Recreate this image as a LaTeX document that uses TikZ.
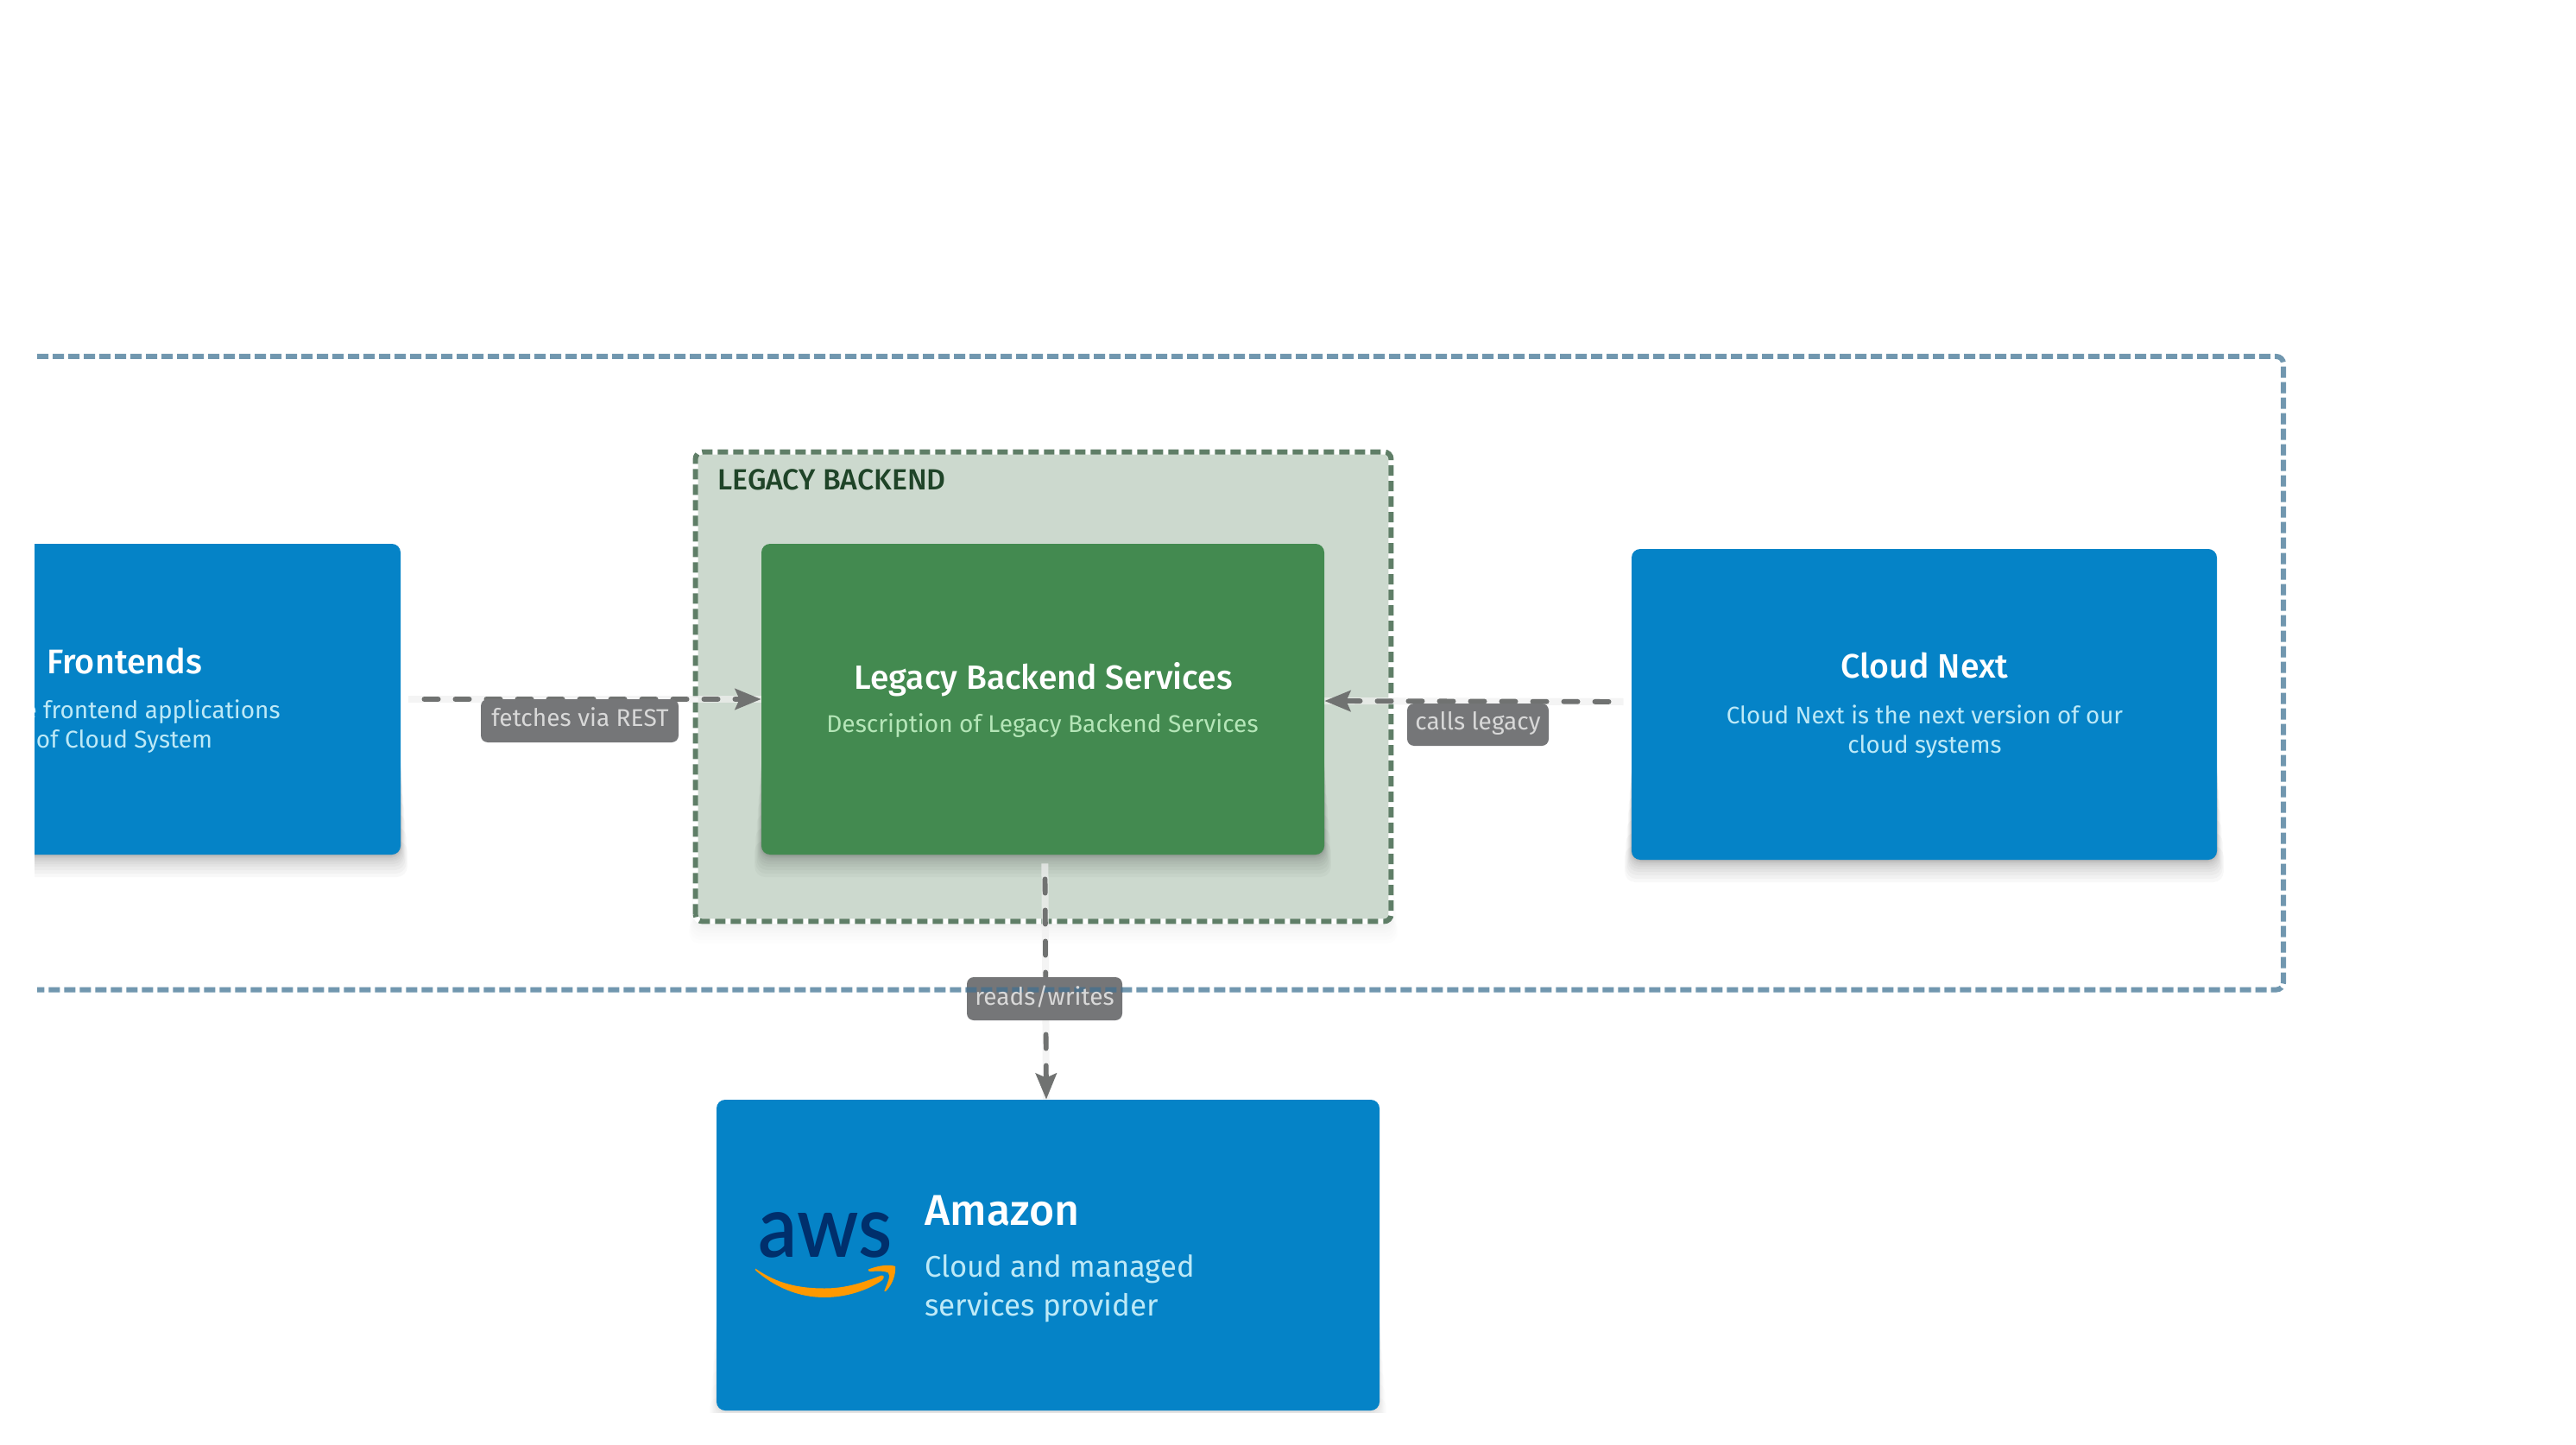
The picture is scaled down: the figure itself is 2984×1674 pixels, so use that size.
\documentclass[tikz,border=0pt]{standalone}
\usepackage{fontspec}
\usetikzlibrary{arrows.meta}
\setmainfont{Fira Sans}
\newfontfamily\medf{Fira Sans Medium}
\newfontfamily\awsf{Lato Semibold}
\definecolor{cloudblue}{HTML}{0583C7}
\definecolor{bluetext}{HTML}{BDE9F7}
\definecolor{svcgreen}{HTML}{438A50}
\definecolor{greentext}{HTML}{B5E6B8}
\definecolor{groupfill}{HTML}{CCD9CE}
\definecolor{groupline}{HTML}{5F7E67}
\definecolor{groupdark}{HTML}{1F4428}
\definecolor{outerline}{HTML}{7197AF}
\definecolor{outerdark}{HTML}{4F7189}
\definecolor{edgegray}{HTML}{707271}
\definecolor{labelgray}{HTML}{757678}
\definecolor{labeltext}{HTML}{D8D8D8}
\definecolor{awsnavy}{HTML}{002F6C}
\definecolor{awsorange}{HTML}{FF9900}
\newcommand{\softshadow}[5][1]{%
  \foreach \r in {0,1,2,3,4,6,8,11,14,18,22,26}{%
    \fill[black,opacity=#1*0.028,rounded corners=6pt] (#2-\r*0.3,#3+\r*4) rectangle (#4+\r*0.3,#5+\r);
  }}
\tikzset{
  box/.style={rounded corners=5pt,inner sep=0pt,draw=none},
  bluebox/.style={box,fill=cloudblue},
  edgelabel/.style={rounded corners=4pt,fill=labelgray,inner sep=0pt},
  edgetext/.style={anchor=base,text=labeltext,inner sep=0pt,font=\fontsize{14.05}{16}\selectfont},
  flowhalo/.style={color=gray!12,opacity=.7,line width=4pt},
  flow/.style={color=edgegray,line width=2.9pt,line cap=round,dash pattern=on 8.1pt off 9.9pt,
    -{Stealth[length=15pt,width=12pt,inset=2.5pt]}},
  title/.style={anchor=base,text=white,inner sep=0pt},
  sub/.style={anchor=base,text=bluetext,inner sep=0pt},
  outerframe/.style={line width=3pt,dash pattern=on 6.5pt off 2.5pt,rounded corners=4pt},
}
\begin{document}
\begin{tikzpicture}[x=0.5pt,y=-0.5pt]
\useasboundingbox[fill=white] (0,0) rectangle (2984,1674);
\begin{scope}
\clip (40,0) rectangle (2984,1636);
% outer frame
\draw[outerframe,outerline] (43,413) -- (2645,413) -- (2645,1146.5) -- (43,1146.5);
% legacy group
\softshadow[.35]{806}{960}{1611}{1067}
\node[fill=groupfill,rounded corners=4pt,minimum width=402.5pt,minimum height=271.5pt,inner sep=0pt] (group) at (1208.5,795.5) {};
\draw[white,line width=3pt,rounded corners=4pt] (group.south west) rectangle (group.north east);
\draw[groupline,line width=3pt,dash pattern=on 6pt off 3pt,rounded corners=4pt] (group.south west) rectangle (group.north east);
\node[anchor=base west,text=groupdark,inner sep=0pt,font=\medf\fontsize{16.9}{18}\selectfont] (grouptitle) at (831,567.5) {LEGACY BACKEND};
% boxes
\softshadow{20}{870}{464}{990}
\node[bluebox,minimum width=222pt,minimum height=180pt] (front) at (242,810) {};
\softshadow{882}{870}{1534}{990}
\node[box,fill=svcgreen,minimum width=326pt,minimum height=180pt] (legacy) at (1208,810) {};
\softshadow{1890}{876}{2568}{996}
\node[bluebox,minimum width=339pt,minimum height=180pt] (cloud) at (2229,816) {};
\softshadow[.45]{830}{1514}{1598}{1634}
\node[bluebox,minimum width=384pt,minimum height=180pt] (amazon) at (1214,1454) {};
% connectors
\draw[flowhalo] ([xshift=4.5pt]front.east) -- (legacy.west);
\draw[flowhalo] ([xshift=-4.5pt,yshift=1.5pt]cloud.west) -- ([yshift=-1pt]legacy.east);
\draw[flowhalo] ([xshift=1.2pt,yshift=-5pt]legacy.south) -- ([xshift=-1pt]amazon.north);
\draw[flow,shorten <=13.5pt] (front.east) -- (legacy.west);
\draw[flow,shorten <=13pt] ([yshift=1.5pt]cloud.west) -- ([yshift=-1pt]legacy.east);
\draw[flow,shorten <=14pt] ([xshift=1.2pt]legacy.south) -- ([xshift=-1pt]amazon.north);
% connector labels
\node[edgelabel,minimum width=114.5pt,minimum height=25pt] (lfetch) at (671.5,835) {};
\node[edgelabel,minimum width=82pt,minimum height=24.5pt] (lcalls) at (1712,839.5) {};
\node[edgelabel,minimum width=90pt,minimum height=25pt] (lreads) at (1210,1157) {};
\begin{scope}
\clip (lreads.south west) rectangle (lreads.north east);
\draw[outerframe,outerdark] (43,413) -- (2645,413) -- (2645,1146.5) -- (43,1146.5);
\end{scope}
\node[edgetext] (lfetcht) at (672,841) {fetches via REST};
\node[edgetext] (lcallst) at (1712,845) {calls legacy};
\node[edgetext] (lreadst) at (1210,1164) {reads/writes};
% texts
\node[title,font=\medf\fontsize{19.8}{22}\selectfont] (t1) at (144.5,780) {Frontends};
\node[sub,anchor=base east,font=\fontsize{14}{17}\selectfont] (t1a) at (325,832) {e frontend applications};
\node[sub,font=\fontsize{14}{17}\selectfont] (t1b) at (144,866) {of Cloud System};
\node[title,font=\medf\fontsize{19.5}{22}\selectfont] (t2) at (1208.5,798) {Legacy Backend Services};
\node[anchor=base,text=greentext,inner sep=0pt,font=\fontsize{14.05}{17}\selectfont] (t2a) at (1207.5,848) {Description of Legacy Backend Services};
\node[title,font=\medf\fontsize{19.6}{22}\selectfont] (t3) at (2229.5,785.5) {Cloud Next};
\node[sub,font=\fontsize{13.9}{17}\selectfont] (t3a) at (2229.5,838) {Cloud Next is the next version of our};
\node[sub,font=\fontsize{13.9}{17}\selectfont] (t3b) at (2229.5,872) {cloud systems};
\node[title,anchor=base west,font=\medf\fontsize{25}{28}\selectfont] (t4) at (1071,1419) {Amazon};
\node[sub,anchor=base west,font=\fontsize{17.3}{20}\selectfont] (t4a) at (1071,1479) {Cloud and managed};
\node[sub,anchor=base west,font=\fontsize{17.5}{20}\selectfont] (t4b) at (1071,1524) {services provider};
% aws logo
\node[anchor=base,text=awsnavy,inner sep=0pt,font=\awsf\fontsize{50}{50}\selectfont,xscale=.9] (awsword) at (956.5,1456) {aws};
\fill[awsorange] (875,1469.5) .. controls (900,1487) and (925,1492.5) .. (955,1492.5)
  .. controls (980,1492.5) and (999,1486) .. (1021,1477.5)
  .. controls (1025,1477) and (1024,1481) .. (1022,1483)
  .. controls (1005,1495) and (980,1503) .. (955,1503)
  .. controls (925,1503) and (897,1491) .. (875,1471.5) -- cycle;
\fill[awsorange] (1006,1470.5) .. controls (1020,1465) and (1032,1465) .. (1037,1467)
  .. controls (1038,1476) and (1034,1488) .. (1026,1496)
  .. controls (1024,1497) and (1024,1495) .. (1025,1494)
  .. controls (1028,1486) and (1032,1478) .. (1029,1474.5)
  .. controls (1025,1472) and (1015,1472.5) .. (1008,1473)
  .. controls (1006,1473) and (1005,1471.5) .. (1006,1470.5) -- cycle;
\end{scope}
\end{tikzpicture}
\end{document}
